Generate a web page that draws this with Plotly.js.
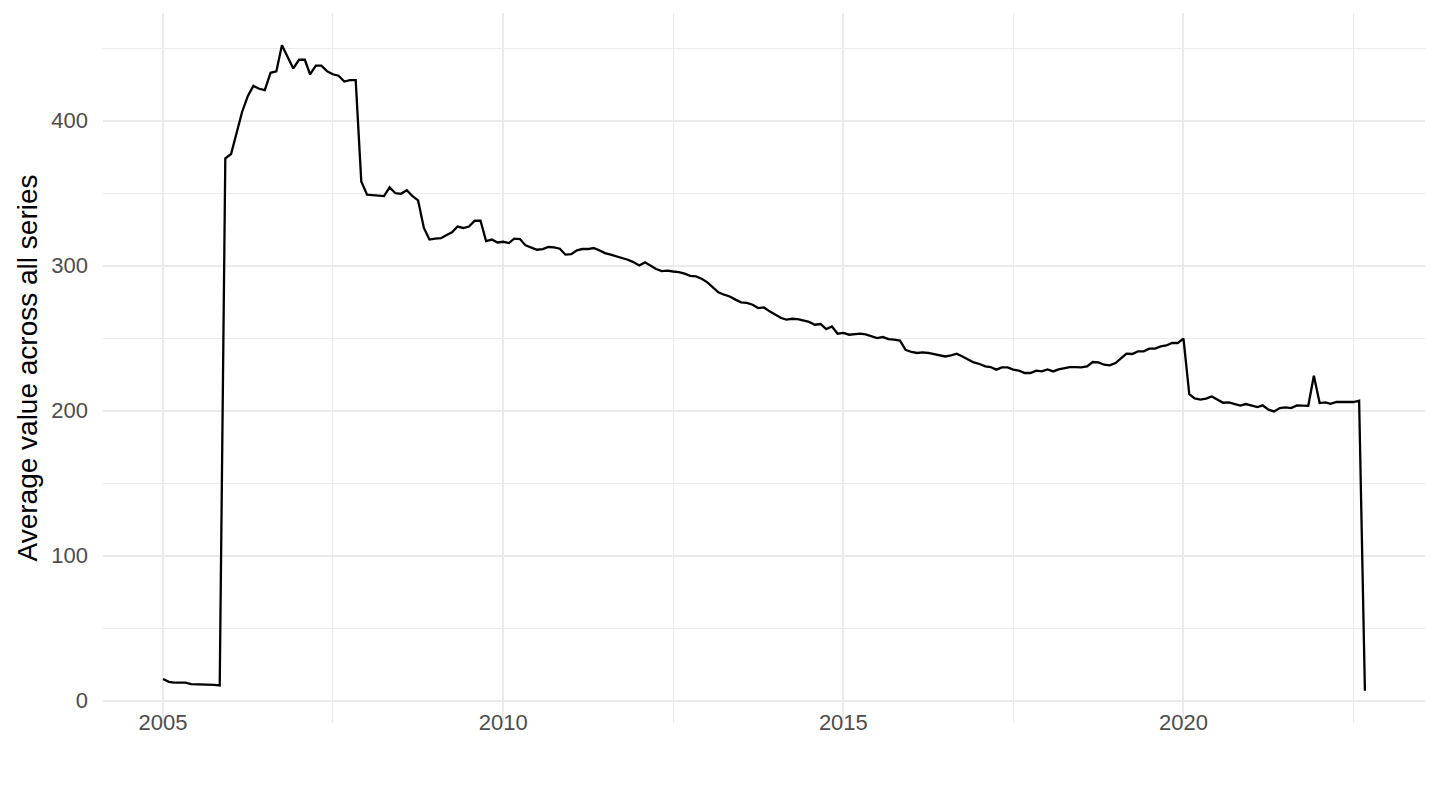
<!DOCTYPE html>
<html>
<head>
<meta charset="utf-8">
<script src="https://cdn.plot.ly/plotly-3.0.1.min.js"></script>
<style>html,body{margin:0;padding:0;background:#fff;}#chart{width:1440px;height:810px;}</style>
</head>
<body>
<div id="chart"></div>
<script>
// Monthly averages, one array per year (January first)
const years = [2005,2006,2007,2008,2009,2010,2011,2012,2013,2014,2015,2016,2017,2018,2019,2020,2021,2022];
const v2005 = [15, 13, 12.5, 12.5, 12.5, 11.5, 11.5, 11.5, 11, 11, 10.5, 374];
const v2006 = [377, 393, 406, 417, 424, 422, 421, 433, 434, 452, 444, 436];
const v2007 = [442, 442, 432, 438, 438, 434, 432, 431, 427, 428, 428, 358];
const v2008 = [349, 348.5, 348, 348, 354, 350, 349.6, 352, 348, 345, 326, 318];
const v2009 = [318.6, 319, 321, 323, 327, 326, 327, 331, 331, 317, 318, 316];
const v2010 = [316.5, 315.6, 318.6, 318.4, 314, 312.6, 311, 311.5, 312.9, 312.6, 311.7, 307.6];
const v2011 = [308, 310.6, 311.5, 311.5, 312.2, 310.6, 308.7, 307.6, 306.4, 305.7, 304.1, 302.5];
const v2012 = [300.2, 302.3, 300, 297.7, 296.3, 296.6, 296, 295.6, 294.5, 293, 292.6, 291];
const v2013 = [288.5, 284.6, 281.6, 280, 278.8, 276.6, 274.7, 274.3, 273.1, 270.8, 271.2, 268.5];
const v2014 = [266.2, 263.9, 262.8, 263.4, 263.2, 262.3, 261.2, 259.3, 259.8, 256.3, 258.1, 253.1];
const v2015 = [253.6, 252.4, 252.9, 253.1, 252.6, 251.5, 250.1, 250.8, 249.4, 249, 248.3, 242];
const v2016 = [240.5, 239.8, 240.2, 239.8, 239.1, 238.6, 237.4, 238.1, 239.3, 237.4, 235.2, 233.3];
const v2017 = [232.2, 230.6, 230.1, 228.3, 229.9, 229.9, 228.3, 227.6, 226, 226, 227.6, 227.1];
const v2018 = [228.5, 227.1, 228.5, 229.4, 230.1, 230.1, 229.9, 230.6, 233.6, 233.3, 231.7, 231.3];
const v2019 = [232.9, 236.3, 239.3, 239.1, 240.9, 240.9, 242.8, 242.8, 244.3, 245, 246.7, 246.7];
const v2020 = [249.7, 211.5, 208.5, 207.6, 208.4, 209.8, 207.4, 205.5, 205.8, 204.7, 203.6, 204.6];
const v2021 = [203.4, 202.5, 203.7, 200.7, 199.5, 201.8, 202.3, 201.8, 203.7, 203.4, 203.4, 224.1];
const v2022 = [205.3, 205.7, 204.8, 206, 206, 206, 206, 206.9, 6.9];
const yearValues = [v2005,v2006,v2007,v2008,v2009,v2010,v2011,v2012,v2013,v2014,v2015,v2016,v2017,v2018,v2019,v2020,v2021,v2022];
const xTickVals = ['2005-01-01','2010-01-01','2015-01-01','2020-01-01'];
const xTickText = ['2005','2010','2015','2020'];
const yTickVals = [0,100,200,300,400];
const yTitle = 'Average value across all series';

const x = [], y = [];
years.forEach((yr, i) => {
  yearValues[i].forEach((v, m) => {
    x.push(yr + '-' + String(m + 1).padStart(2, '0') + '-01');
    y.push(v);
  });
});

// ggplot-style 5% expansion
const tms = x.map(d => new Date(d + 'T00:00:00Z').getTime());
const tmin = Math.min(...tms), tmax = Math.max(...tms);
const tpad = (tmax - tmin) * 0.05;
const ymin = Math.min(...y), ymax = Math.max(...y);
const ypad = (ymax - ymin) * 0.05;
const iso = t => new Date(t).toISOString().slice(0, 19).replace('T', ' ');

const grid = '#EBEBEB';
const font = 'Liberation Sans, Arial, Helvetica, sans-serif';

Plotly.newPlot('chart', [{
  x: x, y: y, type: 'scatter', mode: 'lines',
  line: {color: '#000000', width: 2.3},
  hoverinfo: 'x+y'
}], {
  width: 1440, height: 810,
  paper_bgcolor: '#ffffff', plot_bgcolor: '#ffffff',
  margin: {l: 103, r: 15, t: 13, b: 87},
  showlegend: false,
  font: {family: font},
  xaxis: {
    type: 'date',
    range: [iso(tmin - tpad), iso(tmax + tpad)],
    tickmode: 'array', tickvals: xTickVals, ticktext: xTickText,
    ticks: '', showline: false, zeroline: false,
    showgrid: true, gridcolor: grid, gridwidth: 2,
    minor: {dtick: 'M30', tick0: '2005-01-01', showgrid: true, gridcolor: grid, gridwidth: 1, ticks: ''},
    tickfont: {size: 22, color: '#4D4D4D', family: font},
    ticklabelstandoff: -16
  },
  yaxis: {
    range: [ymin - ypad, ymax + ypad],
    tickmode: 'array', tickvals: yTickVals,
    ticks: '', showline: false, zeroline: false,
    showgrid: true, gridcolor: grid, gridwidth: 2,
    minor: {dtick: 50, tick0: 0, showgrid: true, gridcolor: grid, gridwidth: 1, ticks: ''},
    tickfont: {size: 22, color: '#4D4D4D', family: font},
    ticklabelstandoff: 14,
    title: {text: yTitle, font: {size: 28, color: '#000000', family: font}}
  }
}, {displayModeBar: false, staticPlot: true});
</script>
</body>
</html>
